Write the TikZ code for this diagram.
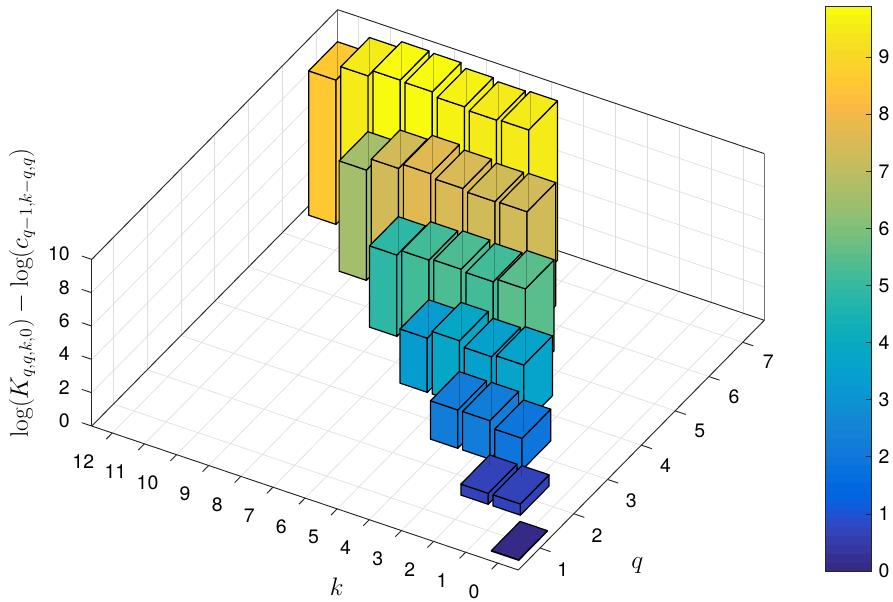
\RequirePackage{fix-cm}
\documentclass[tikz,border=0pt]{standalone}
\usepackage{fontspec}
\newfontfamily\hv{TeX Gyre Heros}
\definecolor{pc0}{rgb}{0.2081,0.1663,0.5292}
\definecolor{pc1}{rgb}{0.2116,0.1898,0.5777}
\definecolor{pc2}{rgb}{0.2123,0.2138,0.6270}
\definecolor{pc3}{rgb}{0.2081,0.2386,0.6771}
\definecolor{pc4}{rgb}{0.1959,0.2645,0.7279}
\definecolor{pc5}{rgb}{0.1707,0.2919,0.7792}
\definecolor{pc6}{rgb}{0.1253,0.3242,0.8303}
\definecolor{pc7}{rgb}{0.0591,0.3598,0.8683}
\definecolor{pc8}{rgb}{0.0117,0.3875,0.8820}
\definecolor{pc9}{rgb}{0.0060,0.4086,0.8828}
\definecolor{pc10}{rgb}{0.0165,0.4266,0.8786}
\definecolor{pc11}{rgb}{0.0329,0.4430,0.8720}
\definecolor{pc12}{rgb}{0.0498,0.4586,0.8641}
\definecolor{pc13}{rgb}{0.0629,0.4737,0.8554}
\definecolor{pc14}{rgb}{0.0723,0.4887,0.8467}
\definecolor{pc15}{rgb}{0.0779,0.5040,0.8384}
\definecolor{pc16}{rgb}{0.0793,0.5200,0.8312}
\definecolor{pc17}{rgb}{0.0749,0.5375,0.8263}
\definecolor{pc18}{rgb}{0.0641,0.5570,0.8240}
\definecolor{pc19}{rgb}{0.0488,0.5772,0.8228}
\definecolor{pc20}{rgb}{0.0343,0.5966,0.8199}
\definecolor{pc21}{rgb}{0.0265,0.6137,0.8135}
\definecolor{pc22}{rgb}{0.0239,0.6287,0.8038}
\definecolor{pc23}{rgb}{0.0231,0.6418,0.7913}
\definecolor{pc24}{rgb}{0.0228,0.6535,0.7768}
\definecolor{pc25}{rgb}{0.0267,0.6642,0.7607}
\definecolor{pc26}{rgb}{0.0384,0.6743,0.7436}
\definecolor{pc27}{rgb}{0.0590,0.6838,0.7254}
\definecolor{pc28}{rgb}{0.0843,0.6928,0.7062}
\definecolor{pc29}{rgb}{0.1133,0.7015,0.6859}
\definecolor{pc30}{rgb}{0.1453,0.7098,0.6646}
\definecolor{pc31}{rgb}{0.1801,0.7177,0.6424}
\definecolor{pc32}{rgb}{0.2178,0.7250,0.6193}
\definecolor{pc33}{rgb}{0.2586,0.7317,0.5954}
\definecolor{pc34}{rgb}{0.3022,0.7376,0.5712}
\definecolor{pc35}{rgb}{0.3482,0.7424,0.5473}
\definecolor{pc36}{rgb}{0.3953,0.7459,0.5244}
\definecolor{pc37}{rgb}{0.4420,0.7481,0.5033}
\definecolor{pc38}{rgb}{0.4871,0.7491,0.4840}
\definecolor{pc39}{rgb}{0.5300,0.7491,0.4661}
\definecolor{pc40}{rgb}{0.5709,0.7485,0.4494}
\definecolor{pc41}{rgb}{0.6099,0.7473,0.4337}
\definecolor{pc42}{rgb}{0.6473,0.7456,0.4188}
\definecolor{pc43}{rgb}{0.6834,0.7435,0.4044}
\definecolor{pc44}{rgb}{0.7184,0.7411,0.3905}
\definecolor{pc45}{rgb}{0.7525,0.7384,0.3768}
\definecolor{pc46}{rgb}{0.7858,0.7356,0.3633}
\definecolor{pc47}{rgb}{0.8185,0.7327,0.3498}
\definecolor{pc48}{rgb}{0.8507,0.7299,0.3360}
\definecolor{pc49}{rgb}{0.8824,0.7274,0.3217}
\definecolor{pc50}{rgb}{0.9139,0.7258,0.3063}
\definecolor{pc51}{rgb}{0.9450,0.7261,0.2886}
\definecolor{pc52}{rgb}{0.9739,0.7314,0.2666}
\definecolor{pc53}{rgb}{0.9938,0.7455,0.2403}
\definecolor{pc54}{rgb}{0.9990,0.7653,0.2164}
\definecolor{pc55}{rgb}{0.9955,0.7861,0.1967}
\definecolor{pc56}{rgb}{0.9880,0.8066,0.1794}
\definecolor{pc57}{rgb}{0.9789,0.8271,0.1633}
\definecolor{pc58}{rgb}{0.9697,0.8481,0.1475}
\definecolor{pc59}{rgb}{0.9626,0.8705,0.1309}
\definecolor{pc60}{rgb}{0.9589,0.8949,0.1132}
\definecolor{pc61}{rgb}{0.9598,0.9218,0.0948}
\definecolor{pc62}{rgb}{0.9661,0.9514,0.0755}
\definecolor{pc63}{rgb}{0.9763,0.9831,0.0538}
\def\bw{0.425}
\newcommand{\mybar}[4]{%
  \filldraw[barface, fill=#4] (#1-\bw,#2-\bw,0) -- (#1+\bw,#2-\bw,0) -- (#1+\bw,#2-\bw,#3) -- (#1-\bw,#2-\bw,#3) -- cycle;
  \filldraw[barface, fill=#4] (#1-\bw,#2-\bw,0) -- (#1-\bw,#2+\bw,0) -- (#1-\bw,#2+\bw,#3) -- (#1-\bw,#2-\bw,#3) -- cycle;
  \filldraw[barface, fill=#4] (#1-\bw,#2-\bw,#3) -- (#1+\bw,#2-\bw,#3) -- (#1+\bw,#2+\bw,#3) -- (#1-\bw,#2+\bw,#3) -- cycle;
  \draw[faint] (#1+\bw,#2+\bw,#3) -- (#1+\bw,#2+\bw,{max(#3-2.3,0)});
}
\begin{document}
\begin{tikzpicture}[x=0.75pt,y=-0.75pt,
  gridline/.style={draw=black!13, line width=0.5pt},
  boxline/.style={draw=black!85, line width=0.7pt},
  backline/.style={draw=black!55, line width=0.7pt},
  barface/.style={draw=black, line width=0.9pt, line join=round},
  faint/.style={draw=black, draw opacity=0.25, line width=0.5pt},
  ticklab/.style={font=\hv\fontsize{14.6}{17}\selectfont, inner sep=0pt},
  axlab/.style={font=\fontsize{19}{23}\selectfont, inner sep=0pt}]
\useasboundingbox (0,0) rectangle (893,601);
\begin{scope}[shift={(485.6,575.4)}, x={(-24.09pt,8.13pt)}, y={(25.3425pt,25.725pt)}, z={(0pt,12.5pt)}]
  % grid
  \foreach \kk in {0,...,12} {
    \draw[gridline] (\kk,0.36,0) -- (\kk,7.64,0);
    \draw[gridline] (\kk,7.64,0) -- (\kk,7.64,10);
  }
  \foreach \qq in {1,...,7} {
    \draw[gridline] (-0.64,\qq,0) -- (12.64,\qq,0);
    \draw[gridline] (12.64,\qq,0) -- (12.64,\qq,10);
  }
  \foreach \zz in {2,4,6,8} {
    \draw[gridline] (12.64,0.36,\zz) -- (12.64,7.64,\zz) -- (-0.64,7.64,\zz);
  }
  % box
  \draw[backline] (12.64,7.64,0) -- (12.64,7.64,10);
  \draw[backline] (-0.64,7.64,0) -- (-0.64,7.64,10);
  \draw[boxline] (12.64,0.36,10) -- (12.64,7.64,10) -- (-0.64,7.64,10);
  \draw[boxline] (12.64,0.36,0) -- (12.64,7.64,0) -- (-0.64,7.64,0);
  \draw[boxline] (12.64,0.36,0) -- (12.64,0.36,10);
  \draw[boxline] (12.64,0.36,0) -- (-0.64,0.36,0) -- (-0.64,7.64,0);
  \foreach \kk in {0,...,12} \draw[boxline] (\kk,0.36,0) -- (\kk,0.18,0);
  \foreach \qq in {1,...,7} \draw[boxline] (-0.64,\qq,0) -- (-0.97,\qq,0);
  \foreach \zz in {0,2,...,10} \draw[boxline] (12.64,0.36,\zz) -- (12.95,0.36,\zz);
  % bars, back to front
  \mybar{12}{7}{8.66}{pc55}
  \mybar{11}{7}{9.56}{pc61}
  \mybar{10}{7}{9.96}{pc63}
  \mybar{9}{7}{9.91}{pc63}
  \mybar{8}{7}{9.66}{pc62}
  \mybar{7}{7}{9.51}{pc61}
  \mybar{6}{7}{9.57}{pc61}
  \mybar{10}{6}{6.62}{pc42}
  \mybar{9}{6}{7.37}{pc47}
  \mybar{8}{6}{7.70}{pc49}
  \mybar{7}{6}{7.47}{pc48}
  \mybar{6}{6}{7.33}{pc47}
  \mybar{5}{6}{7.37}{pc47}
  \mybar{8}{5}{4.88}{pc31}
  \mybar{7}{5}{5.23}{pc33}
  \mybar{6}{5}{5.33}{pc34}
  \mybar{5}{5}{5.23}{pc33}
  \mybar{4}{5}{5.45}{pc35}
  \mybar{6}{4}{3.25}{pc21}
  \mybar{5}{4}{3.75}{pc24}
  \mybar{4}{4}{3.44}{pc22}
  \mybar{3}{4}{3.59}{pc23}
  \mybar{4}{3}{2.30}{pc14}
  \mybar{3}{3}{2.31}{pc14}
  \mybar{2}{3}{1.90}{pc12}
  \mybar{2}{2}{0.66}{pc4}
  \mybar{1}{2}{0.67}{pc4}
  \mybar{0}{1}{0.03}{pc0}
\end{scope}
% tick labels
\foreach \v in {0,...,12} \node[ticklab, anchor=east] (kl\v) at ({479.8-32.12*\v},{591.3-10.84*\v}) {\v};
\foreach \v in {1,...,7} \node[ticklab] (ql\v) at ({562.7+34.27*(\v-1)},{570-34.7*(\v-1)}) {\v};
\foreach \v in {0,2,...,10} \node[ticklab, anchor=east] (zl\v) at (70,{420.7-16.67*\v}) {\v};
% axis labels
\node[axlab] (klab) at (336.7,586.7) {$k$};
\node[axlab] (qlab) at (637.3,565) {$q$};
\node[axlab, rotate=90] (zlab) at (22,293) {$\log(K_{q,q,k,0}) - \log(c_{q-1,k-q,q})$};
% colorbar
\foreach \i in {0,...,63} \fill[pc\i] (825.3,{571-\i*8.828+0.4}) rectangle (871.3,{571-(\i+1)*8.828});
\draw[draw=black!85, line width=0.6pt] (825.3,6) rectangle (871.3,571);
\foreach \v in {1,...,9} \draw[black!85, line width=0.6pt] (865.7,{571-57.1*\v}) -- (871.3,{571-57.1*\v});
\foreach \v in {0,...,9} \node[ticklab, anchor=west] (cl\v) at (878.3,{571-57.1*\v}) {\v};
\end{tikzpicture}
\end{document}
